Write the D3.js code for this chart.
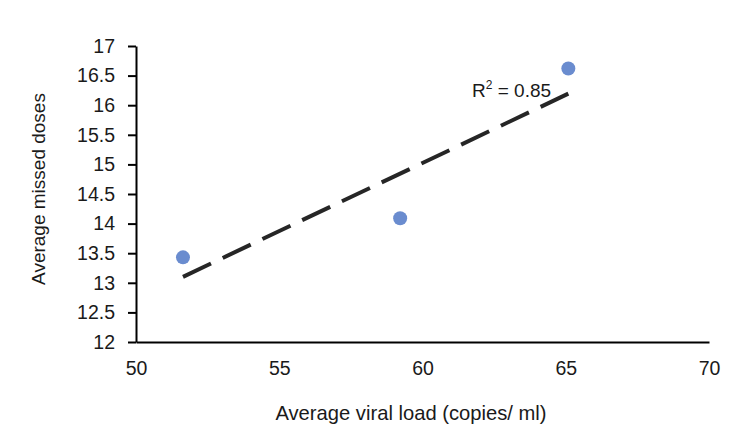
<!DOCTYPE html>
<html>
<head>
<meta charset="utf-8">
<script src="https://cdn.jsdelivr.net/npm/d3@7"></script>
<style>
  body { margin: 0; background: #fff; }
  text { font-family: "Liberation Sans", Arial, sans-serif; fill: #1a1a1a; }
</style>
</head>
<body>
<div id="chart"></div>
<script>
const width = 750;
const height = 437;
const margin = { left: 136, right: 41, top: 46, bottom: 95 };

// data
const viral_load = [51.64, 59.22, 65.09];
const missed_doses = [13.43, 14.09, 16.62];
const x_ticks = [50, 55, 60, 65, 70];
const y_ticks = [12, 12.5, 13, 13.5, 14, 14.5, 15, 15.5, 16, 16.5, 17];
const r2_label = '0.85';

const points = viral_load.map((v, i) => ({ x: v, y: missed_doses[i] }));

const inner_w = width - margin.left - margin.right;
const inner_h = height - margin.top - margin.bottom;

const x_scale = d3.scaleLinear().domain([50, 70]).range([0, inner_w]);
const y_scale = d3.scaleLinear().domain([12, 17]).range([inner_h, 0]);

const svg = d3.select('#chart')
  .append('svg')
    .attr('width', width)
    .attr('height', height);
const g = svg.append('g')
    .attr('transform', 'translate(' + margin.left + ',' + margin.top + ')');

// linear trend line (least squares)
let mx = d3.mean(points, d => d.x), my = d3.mean(points, d => d.y);
let sxy = d3.sum(points, d => (d.x - mx) * (d.y - my));
let sxx = d3.sum(points, d => (d.x - mx) ** 2);
let slope = sxy / sxx, icpt = my - slope * mx;
let x_ext = d3.extent(points, d => d.x);
let trend = x_ext.map(x => ({ x: x, y: icpt + slope * x }));

g.append('g')
  .attr('transform', 'translate(0,' + inner_h + ')')
  .call(d3.axisBottom(x_scale).tickValues(x_ticks).tickSize(0).tickPadding(19.5).tickFormat(d => d))
  .call(a => a.select('.domain').attr('stroke', '#000').attr('stroke-width', 2))
  .call(a => a.selectAll('text').attr('font-size', 19.5).attr('font-family', null));

g.append('g')
  .call(d3.axisLeft(y_scale).tickValues(y_ticks).tickSize(8).tickPadding(13).tickSizeOuter(0).tickFormat(d => d))
  .call(a => a.select('.domain').attr('stroke', '#000').attr('stroke-width', 2))
  .call(a => a.selectAll('.tick line').attr('stroke', '#000').attr('stroke-width', 2))
  .call(a => a.selectAll('text').attr('font-size', 19.5).attr('font-family', null));

g.append('path')
  .datum(trend)
  .attr('fill', 'none')
  .attr('stroke', '#262626')
  .attr('stroke-width', 4)
  .attr('stroke-dasharray', '31,13')
  .attr('d', d3.line().x(d => x_scale(d.x)).y(d => y_scale(d.y)));

g.selectAll('circle')
    .data(points)
  .join('circle')
    .attr('cx', d => x_scale(d.x))
    .attr('cy', d => y_scale(d.y))
    .attr('r', 7)
    .attr('fill', '#6a8ccf');

let r2 = g.append('text')
  .attr('x', 336)
  .attr('y', 51)
  .attr('font-size', 19);
r2.append('tspan').text('R');
r2.append('tspan').text('2').attr('font-size', 12).attr('dy', -8);
r2.append('tspan').text(' = ' + r2_label).attr('dy', 8);

svg.append('text')
  .attr('x', 411)
  .attr('y', 420)
  .attr('text-anchor', 'middle')
  .attr('font-size', 20.2)
  .text('Average viral load (copies/ ml)');

svg.append('text')
  .attr('transform', 'translate(45,189) rotate(-90)')
  .attr('text-anchor', 'middle')
  .attr('font-size', 19)
  .text('Average missed doses');
</script>
</body>
</html>
